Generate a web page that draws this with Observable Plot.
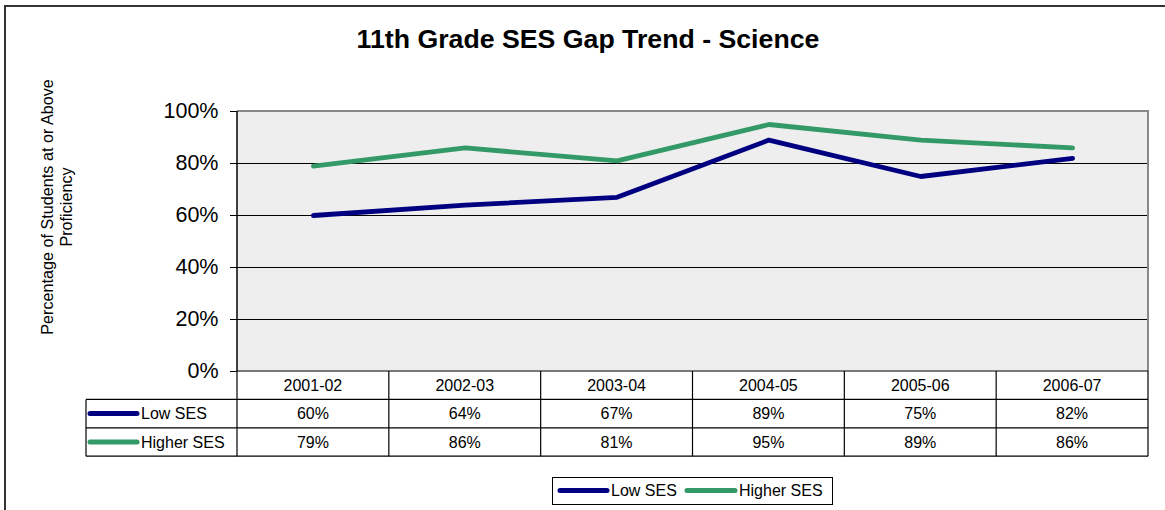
<!DOCTYPE html>
<html>
<head>
<meta charset="utf-8">
<script src="https://cdn.jsdelivr.net/npm/d3@7"></script>
<script src="https://cdn.jsdelivr.net/npm/@observablehq/plot@0.6"></script>
<style>
html, body { margin: 0; padding: 0; background: #fff; }
#chart { position: relative; width: 1165px; height: 510px; overflow: hidden; font-family: Arial, "Liberation Sans", sans-serif; }
</style>
</head>
<body>
<div id="chart"></div>
<script>
// ---- data ----
const years = ["2001-02", "2002-03", "2003-04", "2004-05", "2005-06", "2006-07"];
const lowSES = [0.60, 0.64, 0.67, 0.89, 0.75, 0.82];
const higherSES = [0.79, 0.86, 0.81, 0.95, 0.89, 0.86];
const seriesNames = ["Low SES", "Higher SES"];
const seriesColors = ["#000080", "#339966"];
const yTicks = [0, 0.2, 0.4, 0.6, 0.8, 1];
const titleText = "11th Grade SES Gap Trend - Science";
const yLabelLines = ["Percentage of Students at or Above", "Proficiency"];

const seriesValues = [lowSES, higherSES];
const data = years.flatMap((yr, i) =>
  seriesNames.map((s, k) => ({ year: yr, series: s, value: seriesValues[k][i] }))
);
const pct = d3.format(".0%");

const W = 1165, H = 510;
const FONT = "Arial, 'Liberation Sans', sans-serif";

const plot = Plot.plot({
  width: W,
  height: H,
  marginLeft: 237,
  marginRight: 17,
  marginTop: 111,
  marginBottom: 139,
  style: { fontFamily: FONT, fontSize: "16px", background: "transparent", overflow: "visible", color: "#000" },
  x: { type: "band", domain: years, padding: 0, round: false, axis: null },
  y: { domain: [0, 1], label: null },
  color: { domain: seriesNames, range: seriesColors },
  marks: [
    Plot.frame({ fill: "#eeeeee", stroke: null }),
    Plot.ruleY(yTicks.slice(1, -1), { stroke: "#000", strokeWidth: 1 }),
    Plot.axisY({ ticks: yTicks, tickFormat: pct, tickSize: 7, tickPadding: 12, fontSize: 21.5, label: null, stroke: "#000" }),
    Plot.line(data, {
      x: "year", y: "value", z: "series", stroke: "series",
      strokeWidth: 4.8, strokeLinecap: "round", strokeLinejoin: "round"
    })
  ]
});

document.getElementById("chart").appendChild(plot);

const svg = d3.select(plot);
const xs = plot.scale("x");
const ys = plot.scale("y");
const bw = xs.bandwidth;
const colLeft = v => xs.apply(v);
const colCenter = v => colLeft(v) + bw / 2;

const plotL = colLeft(years[0]);
const plotR = colLeft(years[years.length - 1]) + bw;
const plotT = ys.apply(1);
const plotB = ys.apply(0);

// plot area borders
svg.append("line").attr("x1", plotL).attr("x2", plotR).attr("y1", plotT).attr("y2", plotT)
  .attr("stroke", "#888").attr("stroke-width", 2);
svg.append("line").attr("x1", plotR).attr("x2", plotR).attr("y1", plotT - 1).attr("y2", plotB)
  .attr("stroke", "#888").attr("stroke-width", 2);
svg.append("line").attr("x1", plotL).attr("x2", plotL).attr("y1", plotT).attr("y2", plotB)
  .attr("stroke", "#000").attr("stroke-width", 1.5);

// outer chart border
svg.append("rect").attr("x", 5).attr("y", 6).attr("width", W + 20).attr("height", H + 20)
  .attr("fill", "none").attr("stroke", "#333").attr("stroke-width", 2);

// title
svg.append("text").attr("x", 588).attr("y", 48).attr("text-anchor", "middle")
  .attr("font-family", FONT).attr("font-size", 26.7).attr("font-weight", "bold").attr("fill", "#000")
  .text(titleText);

// y axis title
yLabelLines.forEach((t, i) => {
  svg.append("text")
    .attr("transform", `translate(${53 + i * 19},${207}) rotate(-90)`)
    .attr("text-anchor", "middle").attr("font-family", FONT).attr("font-size", 16.2).attr("fill", "#000")
    .text(t);
});

// ---- data table ----
const rowH = 28.4;
const tableLeft = 86;
const rowsY = [plotB, plotB + rowH, plotB + 2 * rowH, plotB + 3 * rowH];
const g = svg.append("g").attr("stroke", "#000").attr("stroke-width", 1.2);
g.append("line").attr("x1", plotL).attr("x2", plotR).attr("y1", rowsY[0]).attr("y2", rowsY[0]);
for (let r = 1; r <= 3; r++) {
  g.append("line").attr("x1", tableLeft).attr("x2", plotR).attr("y1", rowsY[r]).attr("y2", rowsY[r]);
}
years.forEach(v => {
  g.append("line").attr("x1", colLeft(v)).attr("x2", colLeft(v)).attr("y1", rowsY[0]).attr("y2", rowsY[3]);
});
g.append("line").attr("x1", plotR).attr("x2", plotR).attr("y1", rowsY[0]).attr("y2", rowsY[3]);
g.append("line").attr("x1", tableLeft).attr("x2", tableLeft).attr("y1", rowsY[1]).attr("y2", rowsY[3]);

const tfont = 16;
const base = (top) => top + rowH / 2 + 0.35 * tfont;
years.forEach(v => {
  svg.append("text").attr("x", colCenter(v)).attr("y", base(rowsY[0])).attr("text-anchor", "middle")
    .attr("font-family", FONT).attr("font-size", tfont).attr("fill", "#000").text(v);
});
seriesNames.forEach((s, k) => {
  const top = rowsY[k + 1];
  const cy = top + rowH / 2;
  svg.append("line").attr("x1", 90).attr("x2", 137).attr("y1", cy).attr("y2", cy)
    .attr("stroke", seriesColors[k]).attr("stroke-width", 5).attr("stroke-linecap", "round");
  svg.append("text").attr("x", 141).attr("y", base(top)).attr("text-anchor", "start").attr("font-family", FONT)
    .attr("font-size", tfont).attr("fill", "#000").text(s);
  years.forEach((v, i) => {
    svg.append("text").attr("x", colCenter(v)).attr("y", base(top)).attr("text-anchor", "middle")
      .attr("font-family", FONT).attr("font-size", tfont).attr("fill", "#000").text(pct(seriesValues[k][i]));
  });
});

// ---- bottom legend ----
const lg = svg.append("g");
lg.append("rect").attr("x", 552.5).attr("y", 477.5).attr("width", 280).attr("height", 27)
  .attr("fill", "#fff").attr("stroke", "#000").attr("stroke-width", 1);
const legendItems = [{ x: 560, w: 47 }, { x: 687, w: 48 }];
seriesNames.forEach((s, k) => {
  const it = legendItems[k];
  lg.append("line").attr("x1", it.x).attr("x2", it.x + it.w).attr("y1", 490.5).attr("y2", 490.5)
    .attr("stroke", seriesColors[k]).attr("stroke-width", 5).attr("stroke-linecap", "round");
  lg.append("text").attr("x", it.x + it.w + 4).attr("y", 496).attr("text-anchor", "start").attr("font-family", FONT)
    .attr("font-size", tfont).attr("fill", "#000").text(s);
});
</script>
</body>
</html>
